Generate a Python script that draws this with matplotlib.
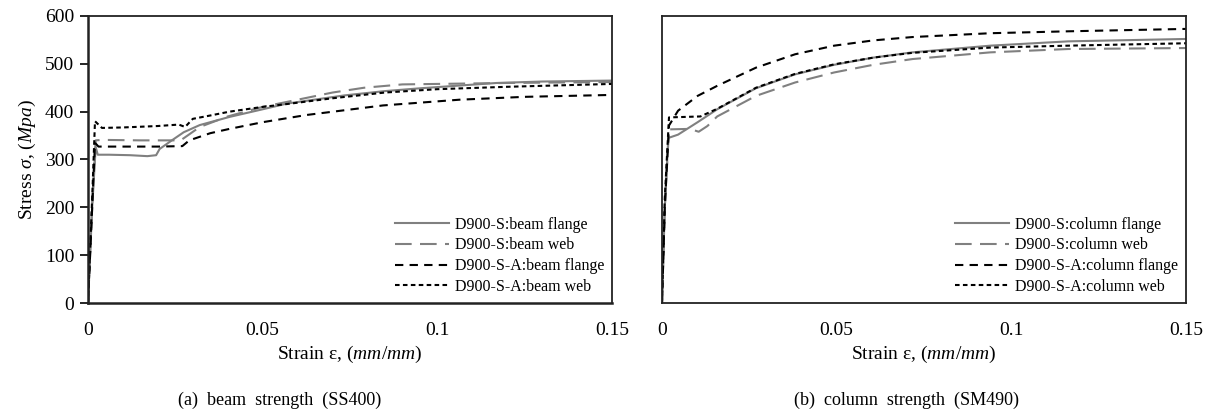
import matplotlib.pyplot as plt

plt.rcParams['font.family'] = 'Liberation Serif'
plt.rcParams['mathtext.fontset'] = 'custom'
plt.rcParams['mathtext.rm'] = 'Liberation Serif'
plt.rcParams['mathtext.it'] = 'Liberation Serif:italic'

# --- (a) beam strength (SS400) ---
beam_s_flange_x = [0, 0.0012, 0.0022, 0.0028, 0.006, 0.012, 0.017, 0.0195, 0.0205, 0.024,
                   0.0274, 0.032, 0.0405, 0.05, 0.057, 0.0734, 0.085, 0.0953, 0.117, 0.13, 0.15]
beam_s_flange_y = [0, 200, 326, 310, 310, 309, 307, 309, 322, 340,
                   357, 372, 389, 405, 417, 434, 443, 449, 460, 463, 465]

beam_s_web_x = [0, 0.0012, 0.0022, 0.004, 0.015, 0.0265, 0.0275, 0.032, 0.04, 0.05,
                0.06, 0.07, 0.079, 0.09, 0.1, 0.12, 0.15]
beam_s_web_y = [0, 210, 340, 341, 340, 340, 345, 368, 390, 410,
                425, 440, 450, 457, 458, 460, 462]

beam_sa_flange_x = [0, 0.0012, 0.002, 0.003, 0.01, 0.02, 0.027, 0.029, 0.035, 0.0405,
                    0.05, 0.0625, 0.0844, 0.1063, 0.125, 0.15]
beam_sa_flange_y = [0, 200, 335, 327, 327, 327, 328, 340, 355, 364,
                    378, 393, 413, 425, 431, 435]

beam_sa_web_x = [0, 0.0012, 0.002, 0.004, 0.01, 0.02, 0.026, 0.0278, 0.03, 0.035, 0.0405,
                 0.05, 0.057, 0.07, 0.085, 0.1, 0.12, 0.15]
beam_sa_web_y = [0, 220, 380, 366, 367, 370, 373, 368, 385, 392, 400,
                 410, 416, 428, 440, 447, 452, 458]

# --- (b) column strength (SM490) ---
col_s_flange_x = [0, 0.0008, 0.0018, 0.0046, 0.0102, 0.0158, 0.0269, 0.0381, 0.0493,
                  0.0605, 0.0717, 0.094, 0.1163, 0.15]
col_s_flange_y = [0, 200, 345, 352, 378, 405, 449, 478, 498,
                  513, 524, 538, 547, 552]

col_s_web_x = [0, 0.0008, 0.002, 0.008, 0.0105, 0.013, 0.0158, 0.0269, 0.0381, 0.0493,
               0.0605, 0.0717, 0.094, 0.1163, 0.15]
col_s_web_y = [0, 200, 363, 364, 358, 370, 390, 433, 461, 482,
               498, 510, 524, 531, 533]

col_sa_flange_x = [0, 0.0008, 0.002, 0.0046, 0.0102, 0.0158, 0.0269, 0.0381, 0.0493,
                   0.0605, 0.0717, 0.094, 0.1163, 0.15]
col_sa_flange_y = [0, 200, 371, 402, 433, 454, 492, 520, 538,
                   549, 556, 564, 568, 573]

col_sa_web_x = [0, 0.0008, 0.002, 0.011, 0.0158, 0.0269, 0.0381, 0.0493, 0.0605,
                0.0717, 0.094, 0.1163, 0.15]
col_sa_web_y = [0, 220, 388, 390, 406, 450, 479, 499, 513,
                523, 534, 538, 543]

gray = '#808080'
styles = [
    dict(color=gray, lw=1.5, ls='-'),
    dict(color=gray, lw=1.5, ls=(0, (8, 4))),
    dict(color='black', lw=1.5, ls=(0, (4, 3))),
    dict(color='black', lw=1.5, ls=(0, (2.2, 1.6))),
]

fig = plt.figure(figsize=(12.12, 4.2), dpi=100)
ax1 = fig.add_axes([88 / 1212, 1 - 303 / 420, 524 / 1212, 287 / 420])
ax2 = fig.add_axes([662 / 1212, 1 - 303 / 420, 524 / 1212, 287 / 420])

beam = [(beam_s_flange_x, beam_s_flange_y, 'D900-S:beam flange'),
        (beam_s_web_x, beam_s_web_y, 'D900-S:beam web'),
        (beam_sa_flange_x, beam_sa_flange_y, 'D900-S-A:beam flange'),
        (beam_sa_web_x, beam_sa_web_y, 'D900-S-A:beam web')]
column = [(col_s_flange_x, col_s_flange_y, 'D900-S:column flange'),
          (col_s_web_x, col_s_web_y, 'D900-S:column web'),
          (col_sa_flange_x, col_sa_flange_y, 'D900-S-A:column flange'),
          (col_sa_web_x, col_sa_web_y, 'D900-S-A:column web')]

for ax, series in [(ax1, beam), (ax2, column)]:
    for (x, y, lab), st in zip(series, styles):
        ax.plot(x, y, label=lab, **st)
    ax.set_xlim(0, 0.15)
    ax.set_ylim(0, 600)
    ax.set_xticks([0, 0.05, 0.1, 0.15])
    ax.set_xticklabels(['0', '0.05', '0.1', '0.15'])
    ax.tick_params(axis='x', length=0, pad=14, labelsize=14)
    for sp in ax.spines.values():
        sp.set_color('#222222')
        sp.set_linewidth(1.3)
    ax.set_xlabel('Strain ε, ($mm/mm$)', fontsize=14, labelpad=3)
    ax.legend(loc='lower right', frameon=False, fontsize=11.5, handlelength=3.4,
              handletextpad=0.35, labelspacing=0.3, borderaxespad=0.1)

ax1.set_yticks([0, 100, 200, 300, 400, 500, 600])
ax1.tick_params(axis='y', direction='out', length=6, width=1.2, labelsize=14, pad=4)
ax1.spines['left'].set_linewidth(1.8)
ax1.spines['bottom'].set_linewidth(1.8)
ax1.set_ylabel('Stress $\\sigma$, ($Mpa$)', fontsize=14, labelpad=5)

ax2.set_yticks([])

fig.text(280 / 1212, 1 - 400 / 420, '(a)  beam  strength  (SS400)', ha='center', va='center', fontsize=13)
fig.text(906 / 1212, 1 - 400 / 420, '(b)  column  strength  (SM490)', ha='center', va='center', fontsize=13)

fig.savefig('out.png', dpi=100)
